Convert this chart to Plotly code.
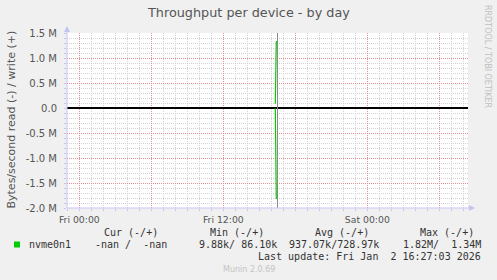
import plotly.graph_objects as go

# ---------------- data ----------------
times = ["2026-01-02 16:20:00", "2026-01-02 16:25:00"]
read_bytes = [9880, 1820000]          # plotted negative
write_bytes = [86100, 1340000]
marker_time = "2026-01-02 16:31:00"

x_tick_vals = ["2026-01-02 00:00", "2026-01-02 06:00", "2026-01-02 12:00",
               "2026-01-02 18:00", "2026-01-03 00:00", "2026-01-03 06:00"]
x_tick_text = ["Fri 00:00", "", "Fri 12:00", "", "Sat 00:00", ""]
y_tick_vals = [-2.0e6, -1.5e6, -1.0e6, -0.5e6, 0, 0.5e6, 1.0e6, 1.5e6]
y_tick_text = ["-2.0 M", "-1.5 M", "-1.0 M", "-0.5 M", "0.0", "0.5 M", "1.0 M", "1.5 M"]
x_range = ["2026-01-01 22:58:30", "2026-01-03 08:23:30"]
y_range = [-2.0e6, 1.5e6]

series_name = "nvme0n1"
legend_headers = ["Cur (-/+)", "Min (-/+)", "Avg (-/+)", "Max (-/+)"]
legend_values = ["-nan /  -nan", "9.88k/ 86.10k", "937.07k/728.97k", "1.82M/  1.34M"]
last_update = "Last update: Fri Jan  2 16:27:03 2026"
title = "Throughput per device - by day"
y_title = "Bytes/second read (-) / write (+)"

# ---------------- layout geometry ----------------
W, H = 497, 280
L, R, T, B = 67, 29, 33, 72
PW, PH = W - L - R, H - T - B


def px(x):
    return (x - L) / PW


def py(y):
    return (H - B - y) / PH


GREEN = "#00CC00"
AXIS = "#C4C4F4"
MONO = "DejaVu Sans Mono"
SANS = "DejaVu Sans"

fig = go.Figure()

fig.add_trace(go.Scatter(x=[marker_time, marker_time], y=y_range, mode="lines",
                         line=dict(color="#8A8A8A", width=1), hoverinfo="skip"))
fig.add_trace(go.Scatter(x=times, y=[-v for v in read_bytes], mode="lines",
                         line=dict(color=GREEN, width=1.2), name=series_name))
fig.add_trace(go.Scatter(x=times, y=write_bytes, mode="lines",
                         line=dict(color=GREEN, width=1.2), name=series_name))

fig.update_layout(
    width=W, height=H, margin=dict(l=L, r=R, t=T, b=B, pad=0),
    paper_bgcolor="#F0F0F0", plot_bgcolor="#FFFFFF", showlegend=False,
    font=dict(family=SANS, size=10, color="#555555"),
)

fig.update_xaxes(
    type="date", range=x_range, tickmode="array", tickvals=x_tick_vals, ticktext=x_tick_text,
    showgrid=True, gridcolor="rgba(228,140,140,0.95)", griddash="1px,1px", gridwidth=1,
    minor=dict(dtick=3600000, showgrid=True, gridcolor="#D2D2D2", griddash="1px,1px",
               ticks="outside", ticklen=2, tickcolor=AXIS),
    ticks="outside", ticklen=2, tickcolor=AXIS,
    showline=False, zeroline=False,
    tickfont=dict(family=SANS, size=9.3, color="#555555"),
    ticklabelstandoff=1,
)
fig.update_yaxes(
    range=y_range, tickmode="array", tickvals=y_tick_vals, ticktext=y_tick_text,
    showgrid=True, gridcolor="rgba(228,140,140,0.95)", griddash="1px,1px", gridwidth=1,
    minor=dict(dtick=100000, showgrid=True, gridcolor="#D2D2D2", griddash="1px,1px",
               ticks="outside", ticklen=2, tickcolor=AXIS),
    ticks="outside", ticklen=2, tickcolor=AXIS,
    showline=False, zeroline=True, zerolinecolor="#000000", zerolinewidth=1.5,
    tickfont=dict(family=SANS, size=10, color="#555555"),
    ticklabelstandoff=5,
)

shapes = [
    # axis lines
    dict(type="line", xref="paper", yref="paper", x0=px(L), x1=px(473), y0=py(208), y1=py(208),
         line=dict(color=AXIS, width=1)),
    dict(type="line", xref="paper", yref="paper", x0=px(L), x1=px(L), y0=py(208), y1=py(28),
         line=dict(color=AXIS, width=1)),
    # arrows
    dict(type="path", xref="paper", yref="paper",
         path=f"M {px(469)} {py(205)} L {px(475)} {py(208)} L {px(469)} {py(211)} Z",
         fillcolor=AXIS, line=dict(width=0)),
    dict(type="path", xref="paper", yref="paper",
         path=f"M {px(64)} {py(32)} L {px(67)} {py(26)} L {px(70)} {py(32)} Z",
         fillcolor=AXIS, line=dict(width=0)),
    # legend color box
    dict(type="rect", xref="paper", yref="paper", x0=px(14), x1=px(20), y0=py(241.5), y1=py(247.5),
         fillcolor=GREEN, line=dict(width=0)),
]
fig.update_layout(shapes=shapes)

ann = []


def text(s, x, y, anchor="left", size=10, color="#333333", family=MONO, angle=0):
    ann.append(dict(text=s, x=px(x), y=py(y), xref="paper", yref="paper", showarrow=False,
                    xanchor=anchor, yanchor="middle", textangle=angle,
                    font=dict(family=family, size=size, color=color)))


text(title, 248.5, 13, anchor="center", size=12.8, color="#555555", family=SANS)
text(y_title, 10.5, 120, anchor="center", size=11, color="#555555", family=SANS, angle=-90)
text("RRDTOOL / TOBI OETIKER", 488, 56, anchor="center", size=8, color="#C0C0C0", family=SANS, angle=90)
text("Munin 2.0.69", 249, 269.5, anchor="center", size=8, color="#C4C4C4", family=SANS)

header_right = [160, 266, 371, 476]
value_right = [169, 279, 381, 483]
for h, xr in zip(legend_headers, header_right):
    text(h, xr, 232.7, anchor="right")
text(series_name, 26.7, 244.3, anchor="left")
for v, xr in zip(legend_values, value_right):
    text(v, xr, 244.3, anchor="right")
text(last_update, 482.7, 256.7, anchor="right")

fig.update_layout(annotations=ann)

fig.write_html("out.html")
